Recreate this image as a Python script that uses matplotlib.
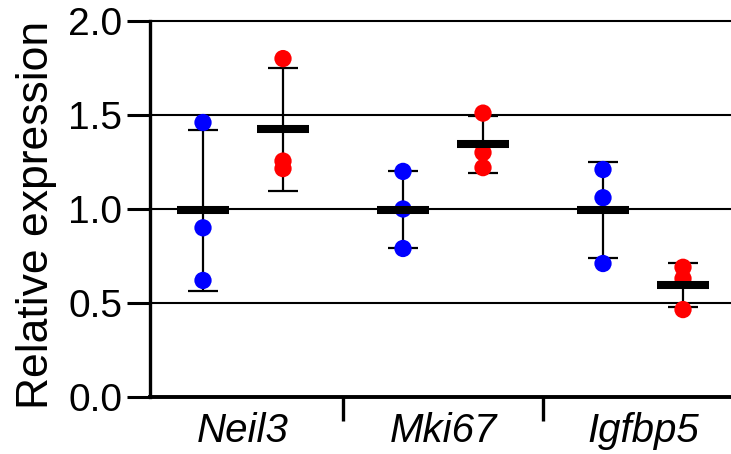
import numpy as np
import matplotlib
matplotlib.use("Agg")
import matplotlib.pyplot as plt

plt.rcParams["font.family"] = ["Liberation Sans", "DejaVu Sans"]

# values (relative expression, n=3 per group)
genes = ["Neil3", "Mki67", "Igfbp5"]
blue_vals = [
    [1.46, 0.90, 0.62],
    [1.20, 1.00, 0.79],
    [1.21, 1.06, 0.71],
]
red_vals = [
    [1.80, 1.255, 1.215],
    [1.51, 1.30, 1.22],
    [0.69, 0.63, 0.465],
]
yticks = [0.0, 0.5, 1.0, 1.5, 2.0]

BLUE = "#0000FF"
RED = "#FF0000"

fig = plt.figure(figsize=(7.31, 4.54), dpi=100)
ax = fig.add_axes([150 / 731, 57 / 454, 581 / 731, 376 / 454])

def draw_group(xpos, vals, color):
    vals = np.asarray(vals)
    m = vals.mean()
    sd = vals.std(ddof=1)
    ax.errorbar(xpos, m, yerr=sd, fmt="none", ecolor="black",
                elinewidth=1.6, capsize=10.5, capthick=1.6, zorder=2)
    ax.scatter(np.full(len(vals), xpos), vals, s=155, color=color,
               edgecolors="none", zorder=3, clip_on=False)
    ax.plot([xpos - 0.13, xpos + 0.13], [m, m], color="black",
            linewidth=5.8, solid_capstyle="butt", zorder=4)

for i in range(len(genes)):
    draw_group(i - 0.2, blue_vals[i], BLUE)
    draw_group(i + 0.2, red_vals[i], RED)

ax.set_xlim(-0.465, 2.44)
ax.set_ylim(0, 2.0)

# y axis
ax.set_yticks(yticks)
ax.set_yticklabels([f"{t:.1f}" for t in yticks])
ax.tick_params(axis="y", direction="out", length=16.5, width=2.2,
               labelsize=28, pad=3.5)
ax.set_ylabel("Relative expression", fontsize=32)
ax.yaxis.set_label_coords(-0.16, 0.485)

# x axis: separators between groups, labels centred on groups
ax.set_xticks([0.5, 1.5])
ax.set_xticklabels([])
ax.set_xticks(range(len(genes)), minor=True)
ax.set_xticklabels(genes, minor=True, fontstyle="italic")
ax.tick_params(axis="x", which="major", direction="out", length=17.5, width=2.4)
ax.tick_params(axis="x", which="minor", length=0, labelsize=29, pad=11)

ax.grid(axis="y", color="black", linewidth=1.5)
for gl in ax.get_ygridlines():
    gl.set_clip_on(False)
ax.set_axisbelow(True)

for side in ("top", "right"):
    ax.spines[side].set_visible(False)
ax.spines["left"].set_linewidth(2.4)
ax.spines["bottom"].set_linewidth(2.8)

fig.savefig("out.png", dpi=100)
